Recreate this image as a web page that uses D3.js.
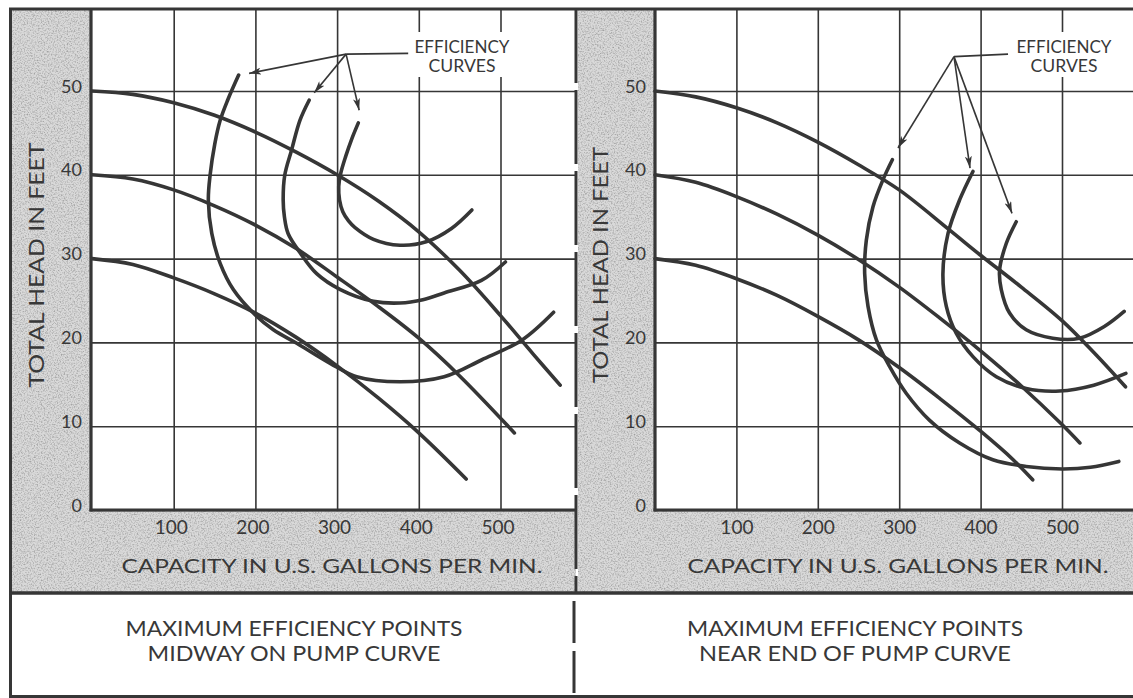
<!doctype html>
<html>
<head>
<meta charset="utf-8">
<title>Pump curves with efficiency curves</title>
<script src="https://d3js.org/d3.v7.min.js"></script>
<style>
  body { margin:0; background:#fff; }
  svg { display:block; }
  text { font-family: Lato, "DejaVu Sans", sans-serif; fill:#383838; }
</style>
</head>
<body>
<svg id="chart" width="1133" height="698"></svg>
<script>
// ticks
var xTicks = [100, 200, 300, 400, 500];
var yTicks = [0, 10, 20, 30, 40, 50];

// left panel - pump curves [capacity gpm, head ft]
var leftPumpHigh = [[0,50],[50,49.6],[100,48.6],[150,47.1],[200,45.1],[250,42.7],[300,40],[350,36.9],[400,33.2],[450,28.6],[500,23.2],[540,18.6],[573,14.9]];
var leftPumpMid  = [[0,40],[50,39.5],[100,38.2],[150,36.3],[200,34],[250,31.2],[300,27.8],[350,24.3],[400,20.5],[450,16],[517,9.2]];
var leftPumpLow  = [[0,30],[50,29.3],[100,27.7],[150,25.8],[200,23.5],[250,20.6],[300,17.2],[350,13.4],[400,9.2],[458,3.7]];

// left panel - efficiency curves
var leftEffOuter = [[179.5,51.9],[166,48.9],[156.9,46.5],[150.3,43.7],[144.6,40],[142.4,37],[146.6,33],[157,29.4],[173,26.3],[197.5,23.5],[222,21.5],[250.6,19.9],[291.5,17.5],[324,15.9],[377,15.3],[431,15.9],[476.7,17.9],[526.5,20.3],[565,23.6]];
var leftEffMid   = [[265.8,48.9],[254.5,46.5],[244.4,43],[236,40],[234,37],[235.5,35],[240,33],[254.7,30.7],[275,28.2],[304,26.3],[344.5,24.9],[377,24.7],[405,25.1],[431,25.9],[476.7,27.4],[506,29.6]];
var leftEffInner = [[326,46.2],[318,44.3],[310.5,42.2],[304.5,40.2],[302,38.6],[303,37],[307,35.6],[314,34.5],[322,33.7],[344.5,32.3],[377,31.6],[409,32],[440,33.6],[465,35.8]];

// right panel - pump curves
var rightPumpHigh = [[0,50],[50,49.3],[100,48],[150,46.2],[200,43.9],[250,41.2],[300,38.2],[362,33.4],[400,30.4],[450,26.6],[500,22.6],[540,18.7],[578,14.7]];
var rightPumpMid  = [[0,40],[50,39.1],[100,37.4],[150,35.3],[200,32.8],[250,29.9],[300,26.6],[350,22.9],[400,19],[450,14.8],[500,10.2],[522,8]];
var rightPumpLow  = [[0,30],[50,29.2],[100,27.6],[150,25.6],[200,23.1],[250,20.3],[300,17],[350,13.3],[400,9.4],[440,6],[464,3.6]];

// right panel - efficiency curves
var rightEffOuter = [[291.6,41.8],[280,39.4],[267.8,36.2],[259.6,32.2],[257.6,28.2],[261.7,24.3],[272,20.3],[288.3,17.1],[308.8,13.9],[337.4,10.7],[374.2,8],[415,6],[456,5.2],[500,4.9],[535,5.1],[569.8,5.8]];
var rightEffMid   = [[390.6,40.4],[374.2,37],[360,33],[353.7,28.2],[357.9,24.3],[370,21.1],[390.6,18.3],[419.3,15.9],[456,14.5],[497,14.2],[539,14.9],[578.5,16.3]];
var rightEffInner = [[443.8,34.4],[431.5,31.8],[423.3,28.6],[425.4,26.3],[435.6,23.5],[456,21.5],[488.7,20.5],[521.5,20.5],[552,21.9],[576.4,23.7]];

// callout "EFFICIENCY CURVES": hub, arrow tips, leader end (data units)
var leftHub = [311, 54.4];
var leftTips = [[192.3,52.1],[272,49.8],[327,47.7]];
var leftLeaderEnd = [387, 54.5];
var rightHub = [367.3, 54.1];
var rightTips = [[298.5,43.2],[387,40.8],[438.6,35.4]];
var rightLeaderEnd = [433.7, 54.4];

var calloutText = ["EFFICIENCY", "CURVES"];
var yTitle = "TOTAL HEAD IN FEET";
var xTitle = "CAPACITY IN U.S. GALLONS PER MIN.";
var captionLeft = ["MAXIMUM EFFICIENCY POINTS", "MIDWAY ON PUMP CURVE"];
var captionRight = ["MAXIMUM EFFICIENCY POINTS", "NEAR END OF PUMP CURVE"];

var ink = "#363636";
var svg = d3.select("#chart");

svg.append("rect").attr("width", 1133).attr("height", 698).attr("fill", "#fff");

var defs = svg.append("defs");
// speckled halftone look for the grey strips
var grain = defs.append("filter").attr("id", "grain").attr("x", 0).attr("y", 0).attr("width", 1).attr("height", 1);
grain.append("feTurbulence").attr("type", "fractalNoise").attr("baseFrequency", 0.7).attr("numOctaves", 2).attr("seed", 7).attr("result", "n");
grain.append("feColorMatrix").attr("in", "n").attr("type", "matrix")
  .attr("values", "0 0 0 0 0.35  0 0 0 0 0.35  0 0 0 0 0.35  2.4 0 0 0 -1.05").attr("result", "m");
grain.append("feComposite").attr("in", "m").attr("in2", "SourceGraphic").attr("operator", "in");

defs.append("marker").attr("id", "arrow")
  .attr("viewBox", "0 0 12 7").attr("refX", 12).attr("refY", 3.5)
  .attr("markerWidth", 12).attr("markerHeight", 7)
  .attr("markerUnits", "userSpaceOnUse").attr("orient", "auto")
  .append("path").attr("d", "M0,0 L12,3.5 L0,7 L3,3.5 Z").attr("fill", ink);

function grayRect(x, y, w, h) {
  svg.append("rect").attr("x", x).attr("y", y).attr("width", w).attr("height", h).attr("fill", "#d9d9d9");
  svg.append("rect").attr("x", x).attr("y", y).attr("width", w).attr("height", h).attr("fill", "#000").attr("filter", "url(#grain)");
}

function drawPanel(p) {
  var x = d3.scaleLinear().domain([0, 500]).range([p.x0, p.x500]);
  var y = d3.scaleLinear().domain([0, 50]).range([510, 91]);
  var top = 9;

  grayRect(p.grayL, top, p.axisX - p.grayL, 584);
  grayRect(p.grayL, 510, p.right - p.grayL, 83);

  // grid lines come from the axes' ticks
  var gx = svg.append("g").attr("transform", "translate(0,510)")
    .call(d3.axisBottom(x).tickValues(xTicks).tickSize(-(510 - top)).tickPadding(11));
  gx.select(".domain").remove();
  gx.selectAll("line").attr("stroke", ink).attr("stroke-width", 1.6);
  gx.selectAll("text").attr("font-size", 19).attr("dx", p.labelShift);

  var gy = svg.append("g").attr("transform", "translate(" + p.axisX + ",0)")
    .call(d3.axisLeft(y).tickValues(yTicks).tickSize(-(p.right - p.axisX)).tickPadding(9));
  gy.select(".domain").remove();
  gy.selectAll("line").attr("stroke", ink).attr("stroke-width", 1.6);
  gy.selectAll("text").attr("font-size", 18).attr("dy", 1);

  // heavy axis lines
  svg.append("line").attr("x1", p.axisX).attr("x2", p.axisX).attr("y1", top).attr("y2", 511.5)
    .attr("stroke", ink).attr("stroke-width", 3.2);
  svg.append("line").attr("x1", p.axisX - 1.5).attr("x2", p.right).attr("y1", 510).attr("y2", 510)
    .attr("stroke", ink).attr("stroke-width", 3.2);

  var line = d3.line().x(function(d) { return x(d[0]); }).y(function(d) { return y(d[1]); })
    .curve(d3.curveCatmullRom.alpha(0.5));

  svg.append("g").selectAll("path").data(p.curves).join("path")
    .attr("d", line).attr("fill", "none").attr("stroke", ink)
    .attr("stroke-width", 3.6).attr("stroke-linecap", "round");

  // callout
  var cx = p.labelX;
  svg.append("rect").attr("x", cx - 54).attr("y", 32).attr("width", 108).attr("height", 45).attr("fill", "#fff");
  svg.append("g").selectAll("text").data(calloutText).join("text")
    .attr("x", cx).attr("y", function(d, i) { return 53 + i * 19; })
    .attr("text-anchor", "middle").attr("font-size", 17)
    .attr("textLength", function(d, i) { return i === 0 ? 95 : 67; })
    .attr("lengthAdjust", "spacingAndGlyphs").text(function(d) { return d; });

  svg.append("line").attr("x1", x(p.hub[0])).attr("y1", y(p.hub[1]))
    .attr("x2", x(p.leaderEnd[0])).attr("y2", y(p.leaderEnd[1]))
    .attr("stroke", ink).attr("stroke-width", 1.8);
  svg.append("g").selectAll("line").data(p.tips).join("line")
    .attr("x1", x(p.hub[0])).attr("y1", y(p.hub[1]))
    .attr("x2", function(d) { return x(d[0]); }).attr("y2", function(d) { return y(d[1]); })
    .attr("stroke", ink).attr("stroke-width", 1.6).attr("marker-end", "url(#arrow)");

  // titles
  svg.append("text").attr("transform", "translate(" + p.yTitleX + ",265) rotate(-90)")
    .attr("text-anchor", "middle").attr("font-size", 22)
    .attr("textLength", p.yTitleLen).attr("lengthAdjust", "spacingAndGlyphs").text(yTitle);
  svg.append("text").attr("x", p.xTitleX).attr("y", 573)
    .attr("text-anchor", "middle").attr("font-size", 20)
    .attr("textLength", 421).attr("lengthAdjust", "spacingAndGlyphs").text(xTitle);

  // caption
  svg.append("g").selectAll("text").data(p.caption).join("text")
    .attr("x", p.captionX).attr("y", function(d, i) { return 636 + i * 25; })
    .attr("text-anchor", "middle").attr("font-size", 22)
    .attr("textLength", function(d, i) { return p.captionLen[i]; })
    .attr("lengthAdjust", "spacingAndGlyphs").text(function(d) { return d; });
}

drawPanel({
  x0: 92, x500: 500.5, axisX: 91, grayL: 12, right: 576, labelShift: -3,
  curves: [leftPumpHigh, leftPumpMid, leftPumpLow, leftEffOuter, leftEffMid, leftEffInner],
  hub: leftHub, tips: leftTips, leaderEnd: leftLeaderEnd, labelX: 462,
  yTitleX: 44, yTitleLen: 245, xTitleX: 332,
  caption: captionLeft, captionX: 294, captionLen: [337, 293]
});
drawPanel({
  x0: 655, x500: 1062, axisX: 655, grayL: 578, right: 1133, labelShift: 0,
  curves: [rightPumpHigh, rightPumpMid, rightPumpLow, rightEffOuter, rightEffMid, rightEffInner],
  hub: rightHub, tips: rightTips, leaderEnd: rightLeaderEnd, labelX: 1064,
  yTitleX: 608, yTitleLen: 236, xTitleX: 898,
  caption: captionRight, captionX: 855, captionLen: [336, 312]
});

// frame
function rule(x1, y1, x2, y2, w, dash) {
  svg.append("line").attr("x1", x1).attr("y1", y1).attr("x2", x2).attr("y2", y2)
    .attr("stroke", ink).attr("stroke-width", w).attr("stroke-dasharray", dash || null);
}
rule(9, 9, 1133, 9, 3);
rule(10.5, 8, 10.5, 698, 3);
rule(9, 593, 1133, 593, 3.5);
rule(9, 696.5, 1133, 696.5, 3);
rule(576, 9, 576, 593, 3, "74,7");
rule(574, 601, 574, 694, 3, "42,8");
</script>
</body>
</html>
